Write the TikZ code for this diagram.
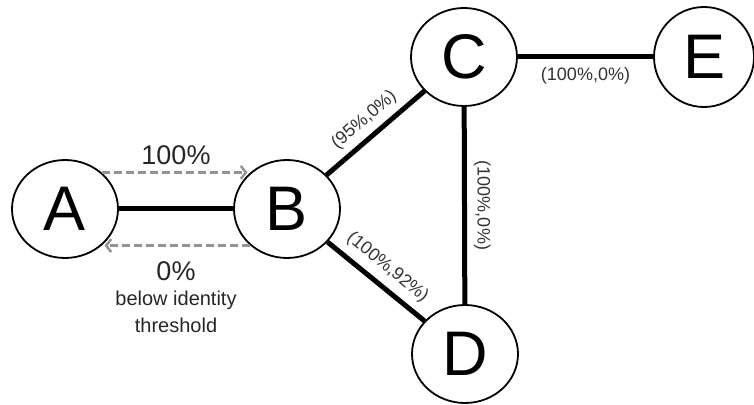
\documentclass[tikz,border=0pt]{standalone}
\usepackage{fontspec}
\setmainfont{Liberation Sans}
\usetikzlibrary{shapes.geometric,arrows.meta,positioning}

\begin{document}
\begin{tikzpicture}[x=1pt,y=1pt,
	vertex/.style={draw, ellipse, line width=1.8pt, minimum width=106pt, minimum height=98pt, inner sep=0pt, font=\fontsize{63}{63}\selectfont},
	link/.style={line width=5pt},
	flow/.style={draw=black!42, line width=2.5pt, dash pattern=on 8pt off 4pt, -{Straight Barb[length=5pt,width=13pt]}, shorten >=3pt},
	elabel/.style={font=\fontsize{18}{22}\selectfont, text=black!80},
	plabel/.style={font=\fontsize{27}{30}\selectfont, text=black!85}]
				\useasboundingbox (0,0) rectangle (754,404);
				
				\node (A) [vertex] at (65,195) {A};
				\node (B) [vertex] at (287,195) {B};
				\node (C) [vertex] at (464,347) {C};
				\node (D) [vertex] at (465,50) {D};
				\node (E) [vertex, minimum width=100pt, minimum height=100pt] at (704,347) {E};
				
				% Links
				\draw[link] (A) -- (B);
				\draw[link] (B) -- (C) node[elabel, midway, sloped, above=3pt] {(95\%,0\%)};
				\draw[link] (B) -- (D) node[elabel, midway, sloped, above=4pt] {(100\%,92\%)};
				\draw[link] (C) -- (D) node[elabel, midway, rotate=-90, anchor=south, inner sep=7pt] {(100\%,0\%)};
				\draw[link] (C) -- (E) node[elabel, midway, below=5pt] {(100\%,0\%)};
				
				% Identity arrows
				\draw[flow] (A.45) -- (B.135) node[plabel, midway, above=3pt] {100\%};
				\draw[flow] (B.-135) -- (A.-45) node (zero) [plabel, midway, below=11pt] {0\%};
				\node (thr) [below=3pt of zero, align=center, font=\fontsize{20}{27}\selectfont, text=black!85] {below identity\\threshold};
				
			\end{tikzpicture}
\end{document}
